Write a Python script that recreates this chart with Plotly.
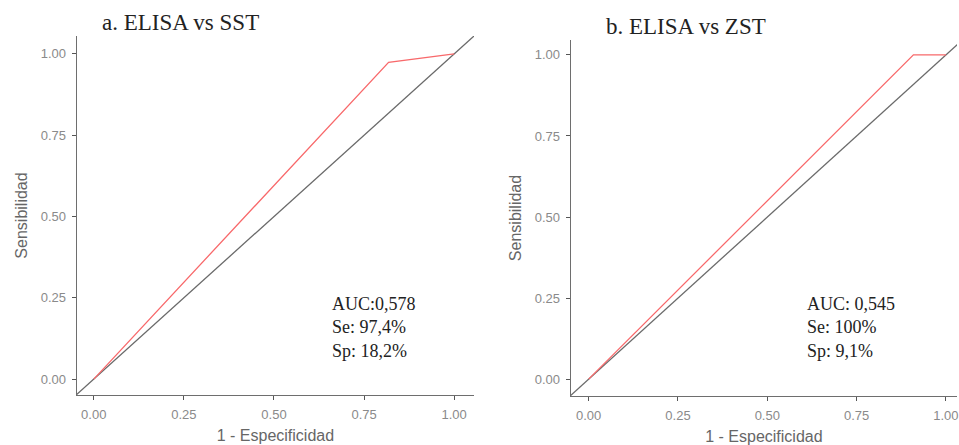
import plotly.graph_objects as go

# Data
fpr_sst = [0.0, 0.818, 1.0]
tpr_sst = [0.0, 0.974, 1.0]
fpr_zst = [0.0, 0.909, 1.0]
tpr_zst = [0.0, 1.0, 1.0]
titles = ["a. ELISA vs SST", "b. ELISA vs ZST"]
stats_sst = ["AUC:0,578", "Se: 97,4%", "Sp: 18,2%"]
stats_zst = ["AUC: 0,545", "Se: 100%", "Sp: 9,1%"]
tick_vals = [0.0, 0.25, 0.5, 0.75, 1.0]
tick_text = ["0.00", "0.25", "0.50", "0.75", "1.00"]

W, H = 959, 445
xr1 = [-0.047, 1.055]
yr1 = [-0.049, 1.055]
xr2 = [-0.05, 1.031]
yr2 = [-0.052, 1.046]

red = "#F8696B"
diag = "#6a6a6a"

fig = go.Figure()
for (fx, ty, xr, yr, xa, ya) in [
    (fpr_sst, tpr_sst, xr1, yr1, "x", "y"),
    (fpr_zst, tpr_zst, xr2, yr2, "x2", "y2"),
]:
    lo = min(xr[0], yr[0]); hi = max(xr[1], yr[1]) + 0.1
    fig.add_trace(go.Scatter(x=[lo, hi], y=[lo, hi], mode="lines",
                             line=dict(color=diag, width=1.3), xaxis=xa, yaxis=ya,
                             showlegend=False, hoverinfo="skip"))
    fig.add_trace(go.Scatter(x=fx, y=ty, mode="lines",
                             line=dict(color=red, width=1.3), xaxis=xa, yaxis=ya,
                             showlegend=False))

sans = "Liberation Sans, Arial"
axis_common = dict(showgrid=False, zeroline=False, showline=True, linecolor="#6e6e6e",
                   linewidth=1.3, ticks="outside", ticklen=4, tickcolor="#555555",
                   tickvals=tick_vals, ticktext=tick_text, ticklabeloverflow="allow",
                   tickfont=dict(family=sans, size=13, color="#8a8a8a"),
                   title_font=dict(family=sans, size=16, color="#666666"))

fig.update_layout(
    width=W, height=H, paper_bgcolor="white", plot_bgcolor="white",
    margin=dict(l=0, r=0, t=0, b=0),
    xaxis=dict(axis_common, domain=[77/W, 475/W], range=xr1, anchor="y",
               ticklabelstandoff=3, title=dict(text="1 - Especificidad", standoff=9)),
    yaxis=dict(axis_common, domain=[1-395/H, 1-36/H], range=yr1, anchor="x",
               ticklabelstandoff=3, title=dict(text="Sensibilidad", standoff=9)),
    xaxis2=dict(axis_common, domain=[572/W, 1.0], range=xr2, anchor="y2",
                ticklabelstandoff=3, title=dict(text="1 - Especificidad", standoff=9)),
    yaxis2=dict(axis_common, domain=[1-396/H, 1-40/H], range=yr2, anchor="x2",
                ticklabelstandoff=3, title=dict(text="Sensibilidad", standoff=9)),
)

serif = "Liberation Serif, Times New Roman, serif"
fig.add_annotation(text=titles[0], xref="paper", yref="paper", x=100/W, y=1-23/H,
                   xanchor="left", yanchor="middle", showarrow=False,
                   font=dict(family=serif, size=23, color="#222222"))
fig.add_annotation(text=titles[1], xref="paper", yref="paper", x=605/W, y=1-26/H,
                   xanchor="left", yanchor="middle", showarrow=False,
                   font=dict(family=serif, size=23, color="#222222"))
fig.add_annotation(text="<br>".join(stats_sst), xref="x", yref="y", x=0.655, y=0.16,
                   xanchor="left", yanchor="middle", align="left", showarrow=False,
                   font=dict(family=serif, size=18, color="#222222"))
fig.add_annotation(text="<br>".join(stats_zst), xref="x2", yref="y2", x=0.605, y=0.16,
                   xanchor="left", yanchor="middle", align="left", showarrow=False,
                   font=dict(family=serif, size=18, color="#222222"))

fig.write_html("out.html", config={"displayModeBar": False},
               post_script="document.body.style.margin='0';")
